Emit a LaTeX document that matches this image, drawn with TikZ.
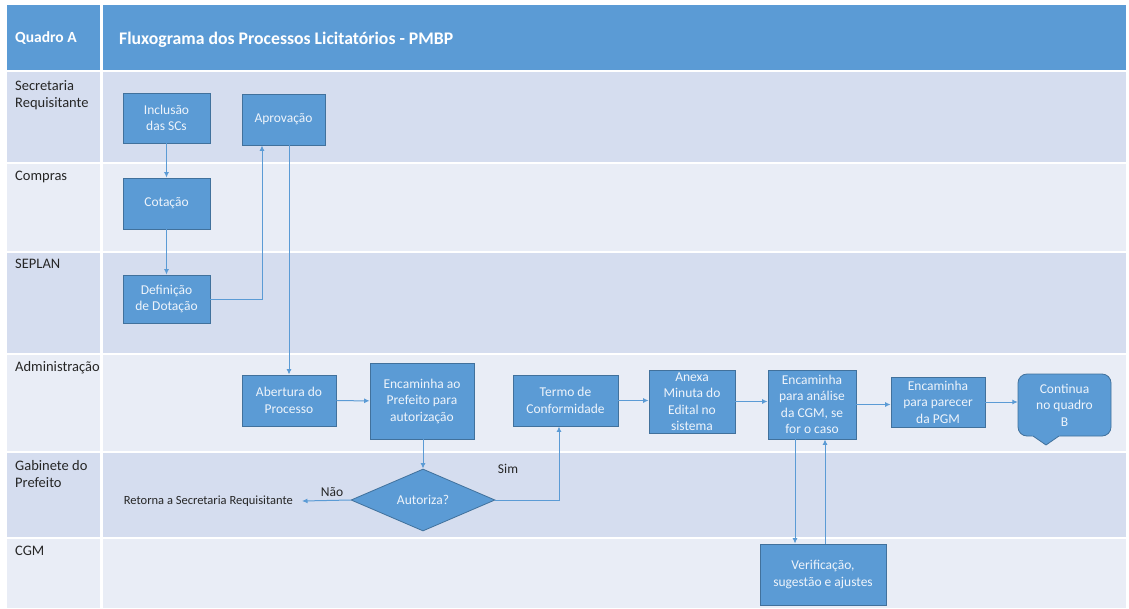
\documentclass[tikz,border=0pt]{standalone}
\usepackage{fontspec}
\setmainfont{Carlito}
\usetikzlibrary{arrows.meta,shapes.geometric}
\definecolor{hdr}{HTML}{5B9BD5}
\definecolor{nodefill}{HTML}{5B9BD5}
\definecolor{nodeline}{HTML}{41719C}
\definecolor{laneA}{HTML}{D5DDEF}
\definecolor{laneB}{HTML}{E9EDF6}
\definecolor{arrowc}{HTML}{5B9BD5}
\definecolor{txtw}{HTML}{EEF4FB}
\definecolor{lbl}{HTML}{262626}
\begin{document}
\begin{tikzpicture}[x=1pt,y=-1pt,
 proc/.style={draw=nodeline, fill=nodefill, text=txtw, line width=0.8pt, align=center, inner sep=0pt, font=\fontsize{13.5}{16.5}\selectfont},
 arr/.style={draw=arrowc, line width=1pt, -{Latex[length=5.5pt,width=5pt]}},
 lanelbl/.style={anchor=north west, align=left, text=lbl, inner sep=0pt, font=\fontsize{14.5}{17}\selectfont},
 plain/.style={text=lbl, inner sep=0pt},
]
\useasboundingbox (0,0) rectangle (1129,608);
\fill[white] (0,0) rectangle (1129,608);
% header
\fill[hdr] (7,5) rectangle (100,70);
\fill[hdr] (103,5) rectangle (1126,70);
\node[anchor=west, text=white, inner sep=0pt, font=\bfseries\fontsize{15.5}{18}\selectfont] (quadro) at (15,38) {Quadro A};
\node[anchor=west, text=white, inner sep=0pt, font=\bfseries\fontsize{17.7}{20}\selectfont] (title) at (119,40) {Fluxograma dos Processos Licitatórios - PMBP};
% lanes
\fill[laneA] (7,72) rectangle (100,162);   \fill[laneA] (103,72) rectangle (1126,162);
\fill[laneB] (7,164) rectangle (100,251);  \fill[laneB] (103,164) rectangle (1126,251);
\fill[laneA] (7,253) rectangle (100,353);  \fill[laneA] (103,253) rectangle (1126,353);
\fill[laneB] (7,355) rectangle (100,451);  \fill[laneB] (103,355) rectangle (1126,451);
\fill[laneA] (7,453) rectangle (100,537);  \fill[laneA] (103,453) rectangle (1126,537);
\fill[laneB] (7,539) rectangle (100,608);  \fill[laneB] (103,539) rectangle (1126,608);
% lane labels
\node[lanelbl] (l1) at (15,80) {Secretaria\\Requisitante};
\node[lanelbl] (l2) at (15,171) {Compras};
\node[lanelbl] (l3) at (15,259) {SEPLAN};
\node[lanelbl] (l4) at (15,361) {Administração};
\node[lanelbl] (l5) at (15,460) {Gabinete do\\Prefeito};
\node[lanelbl] (l6) at (15,546) {CGM};
% process nodes
\node[proc, minimum width=87pt, minimum height=50pt] (incl) at (166.5,118) {Inclusão\\das SCs};
\node[proc, minimum width=83pt, minimum height=51pt] (aprov) at (283.5,119.5) {Aprovação};
\node[proc, minimum width=87pt, minimum height=51pt] (cot) at (166.5,203.5) {Cotação};
\node[proc, minimum width=87pt, minimum height=48pt] (defi) at (166.5,299) {Definição\\de Dotação};
\node[proc, minimum width=94pt, minimum height=51pt] (abert) at (289,400.5) {Abertura do\\Processo};
\node[proc, minimum width=104pt, minimum height=76pt] (encpref) at (422,401) {Encaminha ao\\Prefeito para\\autorização};
\node[diamond, draw=nodeline, fill=nodefill, text=txtw, line width=0.8pt, inner sep=0pt, aspect=2.3, minimum width=144pt, minimum height=62pt, font=\fontsize{13.5}{16.5}\selectfont] (dia) at (423,500) {Autoriza?};
\node[proc, minimum width=105pt, minimum height=51pt] (termo) at (565.5,400.5) {Termo de\\Conformidade};
\node[proc, minimum width=86pt, minimum height=63pt] (anexa) at (692,401.5) {Anexa\\Minuta do\\Edital no\\sistema};
\node[proc, minimum width=88pt, minimum height=69pt] (enccgm) at (812,404.5) {Encaminha\\para análise\\da CGM, se\\for o caso};
\node[proc, minimum width=94pt, minimum height=50pt] (pgm) at (938,402) {Encaminha\\para parecer\\da PGM};
\node[proc, minimum width=126pt, minimum height=61pt] (verif) at (823,574.5) {Verificação,\\sugestão e ajustes};
% callout
\filldraw[fill=nodefill, draw=nodeline, line width=0.8pt, rounded corners=9pt] (1018,374) rectangle (1111,436);
\fill[nodefill] (1032,435.2) -- (1046,445) -- (1060,435.2) -- cycle;
\draw[nodeline, line width=0.8pt] (1033,436) -- (1046,445) -- (1059,436);
\node[text=txtw, align=center, inner sep=0pt, minimum width=93pt, minimum height=62pt, font=\fontsize{13.5}{16.5}\selectfont] (cont) at (1064.5,405) {Continua\\no quadro\\B};
% other text
\node[plain, anchor=east, font=\fontsize{12.5}{14}\selectfont] (ret) at (293,501) {Retorna a Secretaria Requisitante};
\coordinate (retend) at (302,501);
\node[plain, font=\fontsize{13.5}{15}\selectfont] (nao) at (332,492) {Não};
\node[plain, font=\fontsize{13.5}{15}\selectfont] (sim) at (508,469) {Sim};
% connectors
\draw[arr] (incl) -- (cot);
\draw[arr] (cot) -- (defi);
\draw[arr] (defi.east) -| ([xshift=-21.5pt]aprov.south);
\draw[arr] (aprov.south -| abert.north) -- (abert.north);
\draw[arr] (abert) -- (encpref);
\draw[arr] (encpref.south -| dia.north) -- (dia.north);
\draw[arr] (dia.west) -- (retend);
\draw[arr] (dia.east) -| ([xshift=-6.5pt]termo.south);
\draw[arr] (termo.east) -- (termo.east -| anexa.west);
\draw[arr] (anexa.east) -- (anexa.east -| enccgm.west);
\draw[arr] (enccgm.east) -- (enccgm.east -| pgm.west);
\draw[arr] (pgm.east) -- (pgm.east -| cont.west);
\draw[arr] ([xshift=-17pt]enccgm.south) -- ([xshift=-17pt]enccgm.south |- verif.north);
\draw[arr] ([xshift=2pt]verif.north) -- ([xshift=2pt]verif.north |- enccgm.south);
\end{tikzpicture}
\end{document}
